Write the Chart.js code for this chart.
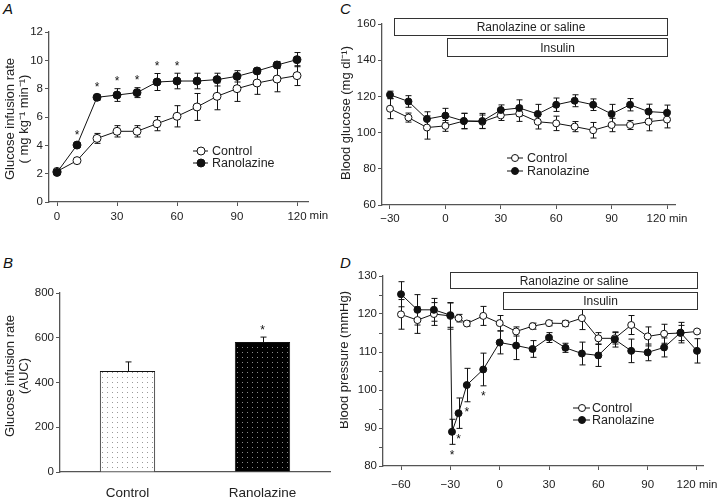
<!DOCTYPE html>
<html><head><meta charset="utf-8">
<script src="https://cdn.jsdelivr.net/npm/chart.js@4.4.1/dist/chart.umd.min.js"></script>
<style>
html,body{margin:0;padding:0;background:#fff}
body{width:720px;height:498px;position:relative;overflow:hidden;font-family:"Liberation Sans",Arial,sans-serif}
canvas{position:absolute}
.lab{position:absolute;font-style:italic;font-size:15px;line-height:15px;color:#111}
</style></head><body>
<div class="lab" style="left:3px;top:1px">A</div>
<div class="lab" style="left:340px;top:1px">C</div>
<div class="lab" style="left:3px;top:255px">B</div>
<div class="lab" style="left:340px;top:255px">D</div>
<canvas id="cA" width="340" height="245" style="left:0;top:0;width:340px;height:245px"></canvas>
<canvas id="cB" width="340" height="248" style="left:0;top:250px;width:340px;height:248px"></canvas>
<canvas id="cC" width="380" height="245" style="left:340px;top:0;width:380px;height:245px"></canvas>
<canvas id="cD" width="380" height="248" style="left:340px;top:250px;width:380px;height:248px"></canvas>
<script>
// ---------- DATA ----------
// Panel A: glucose infusion rate (mg kg-1 min-1)
const timeA = [0,10,20,30,40,50,60,70,80,90,100,110,120];
const ctrlA = [2.16,2.92,4.49,4.99,4.99,5.53,6.05,6.71,7.46,8.0,8.4,8.68,8.92];
const ctrlAerr = [0.1,0.1,0.35,0.4,0.4,0.5,0.75,0.95,0.95,0.9,0.8,0.9,0.7];
const ranoA = [2.09,4.02,7.39,7.55,7.72,8.47,8.54,8.54,8.64,8.87,9.25,9.67,10.05];
const ranoAerr = [0.1,0.15,0.2,0.45,0.35,0.6,0.55,0.55,0.45,0.4,0.2,0.25,0.5];
const starsA = [10,20,30,40,50,60];
const xTicksA = [0,30,60,90,120];
const yTicksA = [0,2,4,6,8,10,12];

// Panel B: glucose infusion rate AUC
const catB = ['Control','Ranolazine'];
const valB = [451,581];
const errB = [41,22];
const starsB = ['Ranolazine'];
const yTicksB = [0,200,400,600,800];

// Panel C: blood glucose (mg dl-1)
const timeC = [-30,-20,-10,0,10,20,30,40,50,60,70,80,90,100,110,120];
const ctrlC = [113.2,108.3,102.8,103.7,106.4,106,109.5,110.5,106,105.1,103.3,101.3,104.2,104.2,106,107.2];
const ctrlCerr = [5.5,2.5,6.4,3,4.3,3.7,2.8,4.3,4,4,2.8,4.3,3.7,2.5,5,4.6];
const ranoC = [120.9,117.2,107.5,109.4,106.4,106.4,112.5,113.6,110.3,115.4,117.6,115.4,110.3,115.4,111.6,111];
const ranoCerr = [2,3.2,4,4,4.2,4.2,2.8,4.5,5.3,3.7,3.3,3.2,5.3,3.4,4.1,4.2];
const xTicksC = [-30,0,30,60,90,120];
const yTicksC = [60,80,100,120,140,160];
const treatC = [-28,120];
const insulinC = [1,120];

// Panel D: blood pressure (mmHg)
const timeDc = [-60,-50,-40,-30,-25,-20,-10,0,10,20,30,40,50,60,70,80,90,100,110,120];
const ctrlD = [119.9,118.4,120,119.5,118.9,117.5,119.5,117.6,115.4,116.8,117.6,117.5,118.9,113.6,113.6,117.1,114.1,114.8,115,115.4];
const ctrlDerr = [3.9,3.5,3,3.5,1,0.7,2.5,2,1.2,0.8,0.7,0.8,3,1.5,1.5,2.5,2.5,2.5,2,0.5];
const timeDr = [-60,-50,-40,-30,-29,-25,-20,-10,0,10,20,30,40,50,60,70,80,90,100,110,120];
const ranoD = [125.2,121.1,121.1,119.7,89.0,93.9,101.3,105.4,112.5,111.7,110.8,113.8,111.1,109.6,109.1,113.3,110.3,109.9,111.2,115.1,110.3];
const ranoDerr = [3.3,4,3,3.2,3.3,4,4.4,4.3,3,3.7,2.2,1.3,1.2,3,2.9,2,3.1,2.2,2.5,2.7,3.2];
const starsD = [-29,-25,-20,-10];
const xTicksD = [-60,-30,0,30,60,90,120];
const yTicksD = [80,85,90,95,100,105,110,115,120,125,130];
const treatD = [-30,120];
const insulinD = [2,120];

// ---------- STYLE / HELPERS ----------
const FONT = "'Liberation Sans', Arial, Helvetica, sans-serif";
const TICK = 11.5;
Chart.defaults.font.family = FONT;
Chart.defaults.color = '#222';
Chart.defaults.animation = false;
const AX = '#555';
const fmt = v => v < 0 ? '\u2212' + Math.abs(v) : String(v);
const pts = (xs, ys) => xs.map((x,i)=>({x:x, y:ys[i]}));

function linX(min,max,ticks,h,pad,lastUnit){
  const last = ticks[ticks.length-1];
  return {type:'linear',min:min,max:max,
    afterBuildTicks:s=>{s.ticks=ticks.map(v=>({value:v}));},
    afterFit:s=>{s.height=h; s.paddingLeft=0; s.paddingRight=0;},
    grid:{drawOnChartArea:false,drawTicks:true,tickLength:4,color:AX,lineWidth:1},
    border:{display:true,color:AX,width:1.3},
    ticks:{font:{size:TICK},color:'#222',padding:pad,maxRotation:0,autoSkip:false,
      callback:v=> (lastUnit && v===last) ? fmt(v)+' '+lastUnit : fmt(v)}};
}
function linY(min,max,ticks,w,labelIf){
  return {type:'linear',min:min,max:max,
    afterBuildTicks:s=>{s.ticks=ticks.map(v=>({value:v}));},
    afterFit:s=>{s.width=w;},
    grid:{drawOnChartArea:false,drawTicks:true,tickLength:4,color:AX,lineWidth:1},
    border:{display:true,color:AX,width:1.3},
    ticks:{font:{size:TICK},color:'#222',padding:2,autoSkip:false,
      callback:v=> (labelIf && !labelIf(v)) ? '' : fmt(v)}};
}
function series(label,data,err,filled,r){
  return {label:label,data:data,err:err,borderColor:'#111',borderWidth:1,
    pointRadius:r,pointHoverRadius:r,pointBorderColor:'#111',pointBorderWidth:1,
    pointBackgroundColor:filled?'#111':'#fff',fill:false,tension:0,order:filled?0:1};
}

const deco = {
  id:'deco',
  beforeDatasetsDraw(chart,args,o){
    const ctx=chart.ctx, ys=chart.scales.y;
    ctx.save(); ctx.strokeStyle='#111'; ctx.lineWidth=1;
    chart.data.datasets.forEach((ds,i)=>{
      if(!ds.err) return;
      const meta=chart.getDatasetMeta(i);
      meta.data.forEach((el,j)=>{
        const p=meta.controller.getParsed(j), e=ds.err[j];
        if(!e) return;
        const x=Math.round(el.x)+0.5;
        const yt=ys.getPixelForValue(p.y+e);
        const yb=ds.errUpOnly?ys.getPixelForValue(p.y):ys.getPixelForValue(p.y-e);
        ctx.beginPath();
        ctx.moveTo(x,yb); ctx.lineTo(x,yt);
        ctx.moveTo(x-3,yt); ctx.lineTo(x+3,yt);
        if(!ds.errUpOnly){ctx.moveTo(x-3,yb); ctx.lineTo(x+3,yb);}
        ctx.stroke();
      });
    });
    ctx.restore();
  },
  afterDraw(chart,args,o){
    const ctx=chart.ctx, xs=chart.scales.x, ys=chart.scales.y, ca=chart.chartArea;
    ctx.save();
    // axis title
    if(o.title){
      ctx.fillStyle='#222'; ctx.font='13px '+FONT; ctx.textAlign='center'; ctx.textBaseline='middle';
      o.title.lines.forEach((t,k)=>{
        ctx.save(); ctx.translate(o.title.xs[k],o.title.cy); ctx.rotate(-Math.PI/2);
        ctx.fillText(t,0,0); ctx.restore();
      });
    }
    // unit after last tick (panel A style)
    if(o.unit){
      const tk=xs.ticks[xs.ticks.length-1];
      ctx.font=TICK+'px '+FONT; ctx.fillStyle='#222'; ctx.textAlign='left'; ctx.textBaseline='top';
      const lw=ctx.measureText(fmt(tk.value)).width;
      ctx.fillText(o.unit, xs.getPixelForValue(tk.value)+lw/2+3, xs.top+4+xs.options.ticks.padding);
    }
    // treatment boxes
    (o.boxes||[]).forEach(b=>{
      const x1=Math.round(xs.getPixelForValue(b.span[0]))+0.5, x2=Math.round(xs.getPixelForValue(b.span[1]))+0.5;
      const y1=ca.top+b.top+0.5;
      ctx.fillStyle='#fff'; ctx.fillRect(x1,y1,x2-x1,b.h);
      ctx.strokeStyle='#333'; ctx.lineWidth=1; ctx.strokeRect(x1,y1,x2-x1,b.h);
      ctx.fillStyle='#222'; ctx.font='12px '+FONT; ctx.textAlign='center'; ctx.textBaseline='middle';
      ctx.fillText(b.text,(x1+x2)/2,y1+b.h/2+1);
    });
    // significance stars
    if(o.stars){
      const s=o.stars, ds=chart.data.datasets[s.ds], meta=chart.getDatasetMeta(s.ds);
      ctx.fillStyle='#111'; ctx.font='12px '+FONT; ctx.textAlign='center'; ctx.textBaseline='middle';
      meta.data.forEach((el,j)=>{
        const p=meta.controller.getParsed(j);
        if(!s.at.includes(p.x)) return;
        const e=ds.err[j]||0;
        const y=s.dir==='up'?ys.getPixelForValue(p.y+e)-s.gap:ys.getPixelForValue(p.y-e)+s.gap;
        ctx.fillText('*',el.x,y);
      });
    }
    // legend
    if(o.legend){
      const L=o.legend;
      L.items.forEach((it,k)=>{
        const y=L.ys[k];
        ctx.strokeStyle='#111'; ctx.lineWidth=1;
        ctx.beginPath(); ctx.moveTo(L.x1,y); ctx.lineTo(L.x2,y); ctx.stroke();
        ctx.beginPath(); ctx.arc(L.cx,y,L.r,0,Math.PI*2);
        ctx.fillStyle=it.filled?'#111':'#fff'; ctx.fill(); ctx.stroke();
        ctx.fillStyle='#222'; ctx.font='12.5px '+FONT; ctx.textAlign='left'; ctx.textBaseline='middle';
        ctx.fillText(it.text,L.tx,y+0.5);
      });
    }
    ctx.restore();
  }
};
const legendItems=[{text:'Control',filled:false},{text:'Ranolazine',filled:true}];

// ---------- PANEL A ----------
new Chart(document.getElementById('cA'),{
  type:'line',
  data:{datasets:[
    series('Control',pts(timeA,ctrlA),ctrlAerr,false,4),
    series('Ranolazine',pts(timeA,ranoA),ranoAerr,true,4)]},
  options:{responsive:false,layout:{padding:{left:0,right:32,top:32,bottom:0}},
    scales:{x:linX(-4,125.5,xTicksA,43,4),y:linY(0,12,yTicksA,49)},
    plugins:{legend:{display:false},tooltip:{enabled:false},
      deco:{title:{lines:['Glucose infusion rate','( mg kg\u207B\u00B9 min\u207B\u00B9)'],xs:[10,24],cy:119},
        unit:'min',stars:{ds:1,at:starsA,dir:'up',gap:7},
        legend:{items:legendItems,x1:193,x2:208,cx:201,r:4,tx:212,ys:[151,163]}}}},
  plugins:[deco]
});

// ---------- PANEL B ----------
const ctxB=document.getElementById('cB').getContext('2d');
function dots(bg,dot){
  const c=document.createElement('canvas'); c.width=5; c.height=5;
  const g=c.getContext('2d'); g.fillStyle=bg; g.fillRect(0,0,5,5);
  g.fillStyle=dot; g.fillRect(2,2,1,1);
  return ctxB.createPattern(c,'repeat');
}
new Chart(ctxB,{
  type:'bar',
  data:{labels:catB,datasets:[{data:valB,err:errB,errUpOnly:true,
    backgroundColor:[dots('#fff','#9a9a9a'),dots('#000','#8a8a8a')],
    borderColor:'#111',borderWidth:1,categoryPercentage:1,barPercentage:0.41}]},
  options:{responsive:false,layout:{padding:{left:0,right:10,top:43,bottom:0}},
    scales:{
      x:{type:'category',offset:true,afterFit:s=>{s.height=26;},
        grid:{display:false,drawTicks:false},border:{display:true,color:AX,width:1.3},
        ticks:{font:{size:13.5},color:'#222',padding:13}},
      y:linY(0,800,yTicksB,60)},
    plugins:{legend:{display:false},tooltip:{enabled:false},
      deco:{title:{lines:['Glucose infusion rate','(AUC)'],xs:[10,24],cy:126},
        stars:{ds:0,at:starsB.map(c=>catB.indexOf(c)),dir:'up',gap:6}}}},
  plugins:[deco]
});

// ---------- PANEL C ----------
new Chart(document.getElementById('cC'),{
  type:'line',
  data:{datasets:[
    series('Control',pts(timeC,ctrlC),ctrlCerr,false,3.5),
    series('Ranolazine',pts(timeC,ranoC),ranoCerr,true,3.5)]},
  options:{responsive:false,layout:{padding:{left:0,right:45,top:24,bottom:0}},
    scales:{x:linX(-34.33,124.33,xTicksC,40,3,'min'),y:linY(60,160,yTicksC,42)},
    plugins:{legend:{display:false},tooltip:{enabled:false},
      deco:{title:{lines:['Blood glucose (mg dl\u207B\u00B9)'],xs:[6],cy:113},
        boxes:[{span:treatC,top:-6,h:17,text:'Ranolazine or saline'},{span:insulinC,top:14,h:18,text:'Insulin'}],
        legend:{items:legendItems,x1:167,x2:183,cx:175,r:3.5,tx:187,ys:[158,171]}}}},
  plugins:[deco]
});

// ---------- PANEL D ----------
new Chart(document.getElementById('cD'),{
  type:'line',
  data:{datasets:[
    series('Control',pts(timeDc,ctrlD),ctrlDerr,false,3.5),
    series('Ranolazine',pts(timeDr,ranoD),ranoDerr,true,3.5)]},
  options:{responsive:false,layout:{padding:{left:0,right:17,top:26,bottom:0}},
    scales:{x:linX(-70.95,123.65,xTicksD,32,8,'min'),y:linY(80,130,yTicksD,43,v=>v%10===0)},
    plugins:{legend:{display:false},tooltip:{enabled:false},
      deco:{title:{lines:['Blood pressure (mmHg)'],xs:[4],cy:110},
        stars:{ds:1,at:starsD,dir:'down',gap:11},
        boxes:[{span:treatD,top:-4,h:16,text:'Ranolazine or saline'},{span:insulinD,top:16,h:17,text:'Insulin'}],
        legend:{items:legendItems,x1:233,x2:250,cx:242,r:3.5,tx:252,ys:[158,170]}}}},
  plugins:[deco]
});
</script>
</body></html>
